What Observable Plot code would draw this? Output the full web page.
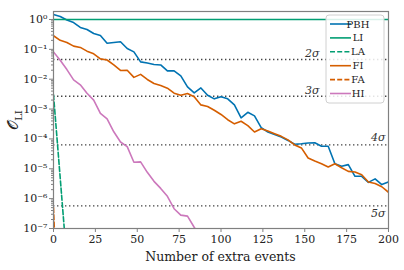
<!DOCTYPE html>
<html><head><meta charset="utf-8">
<script src="https://cdn.jsdelivr.net/npm/d3@7"></script>
<script src="https://cdn.jsdelivr.net/npm/@observablehq/plot@0.6"></script>
<style>
body{margin:0;background:#fff;}
#chart{width:404px;height:270px;}
</style></head><body><div id="chart"></div>
<script>
const events = [0,4,8,12,16,20,24,28,32,36,40,44,48,52,56,60,64,68,72,76,80,84,88,92,96,100,104,108,112,116,120,124,128,132,136,140,144,148,152,156,160,164,168,172,176,180,184,188,192,196,200];
const pbh = [1.47,1.26,0.96,0.79,0.54,0.46,0.34,0.29,0.16,0.17,0.18,0.107,0.082,0.038,0.035,0.031,0.030,0.019,0.019,0.013,0.0055,0.0035,0.0051,0.0029,0.0022,0.0026,0.0022,0.00138,0.00051,0.00078,0.00059,0.00024,0.00017,0.00014,0.000115,8.9e-5,6.6e-5,6.9e-5,7.3e-5,7.4e-5,5.7e-5,5.7e-5,1.47e-5,1.21e-5,1.38e-5,5.6e-6,5.6e-6,3.5e-6,4.6e-6,2.95e-6,3.6e-6];
const fi = [0.285,0.20,0.17,0.128,0.116,0.087,0.071,0.048,0.044,0.030,0.0196,0.020,0.0115,0.0145,0.0098,0.0072,0.0061,0.0050,0.0034,0.0029,0.0033,0.0026,0.00138,0.00122,0.00091,0.00066,0.00044,0.00032,0.00039,0.00028,0.00017,0.00022,0.000183,0.000150,0.000122,9.3e-5,6.3e-5,5.0e-5,2.3e-5,1.82e-5,1.48e-5,1.15e-5,1.47e-5,1.08e-5,8.2e-6,7.8e-6,6.3e-6,3.6e-6,3.2e-6,2.5e-6,1.63e-6];
const hiEvents = [0,4,8,12,16,20,24,28,32,36,40,44,48,52,56,60,64,68,72,76,80,84,88];
const hi = [0.082,0.043,0.021,0.0095,0.0065,0.0034,0.0020,0.00072,0.00047,0.000173,7.9e-5,5.5e-5,1.65e-5,1.7e-5,7.6e-6,3.8e-6,2.2e-6,1.2e-6,4.6e-7,2.8e-7,2.6e-7,1.1e-7,5e-8];
const liEvents = [0,200];
const li = [1,1];
const laEvents = [0,4,8];
const la = [0.003,5e-6,8e-9];
const faEvents = [0,4];
const fa = [5e-7,1e-12];
const sigmaP = [0.0455,0.0027,6.33e-5,5.73e-7];
const sigmaLabels = ["2σ","3σ","4σ","5σ"];
const xTicks = [0,25,50,75,100,125,150,175,200];
const yTicks = [1,1e-1,1e-2,1e-3,1e-4,1e-5,1e-6,1e-7];
const seriesNames = ["PBH","LI","LA","FI","FA","HI"];
const colors = {PBH:"#0173b2",LI:"#029e73",LA:"#029e73",FI:"#d55e00",FA:"#d55e00",HI:"#cc78bc"};
const dashes = {PBH:null,LI:null,LA:"5,2.2",FI:null,FA:"5,2.2",HI:null};

const rows = (xs, ys) => xs.map((x,i)=>({x, y: ys[i]}));
const sup = {"-":"⁻","0":"⁰","1":"¹","2":"²","3":"³","4":"⁴","5":"⁵","6":"⁶","7":"⁷","8":"⁸","9":"⁹"};
const fmt = d => "10" + String(Math.round(Math.log10(d))).split("").map(c=>sup[c]).join("");
const minorTicks = [];
yTicks.forEach(t => { if (t < 1) for (let k=2;k<10;k++) minorTicks.push(t*k); });

const lw = 1.6;
const plot = Plot.plot({
  width:404, height:270, marginLeft:53, marginRight:16, marginTop:11, marginBottom:42,
  style:{fontFamily:"DejaVu Serif", fontSize:"11px", background:"white", color:"#222", overflow:"visible"},
  x:{domain:[0,200]},
  y:{type:"log", domain:[1e-7,1.85]},
  marks:[
    Plot.ruleY(sigmaP, {stroke:"#444", strokeDasharray:"1.4,2.6", strokeWidth:1.4}),
    Plot.text(sigmaP.slice(0,2), {y:d=>d, text:(d,i)=>sigmaLabels[i], frameAnchor:"right", textAnchor:"end", dx:-69, dy:-6, fontStyle:"italic", fontSize:11, fill:"#333"}),
    Plot.text(sigmaP.slice(2,3), {y:d=>d, text:(d,i)=>sigmaLabels[2+i], frameAnchor:"right", textAnchor:"end", dx:-3, dy:-7, fontStyle:"italic", fontSize:11, fill:"#333"}),
    Plot.text(sigmaP.slice(3), {y:d=>d, text:(d,i)=>sigmaLabels[3+i], frameAnchor:"right", textAnchor:"end", dx:-3, dy:8, fontStyle:"italic", fontSize:11, fill:"#333"}),
    Plot.line(rows(events,pbh), {x:"x", y:"y", stroke:colors.PBH, strokeWidth:lw, clip:true}),
    Plot.line(rows(liEvents,li), {x:"x", y:"y", stroke:colors.LI, strokeWidth:lw, clip:true}),
    Plot.line(rows(laEvents,la), {x:"x", y:"y", stroke:colors.LA, strokeWidth:lw, strokeDasharray:dashes.LA, clip:true}),
    Plot.line(rows(events,fi), {x:"x", y:"y", stroke:colors.FI, strokeWidth:lw, clip:true}),
    Plot.line(rows(faEvents,fa), {x:"x", y:"y", stroke:colors.FA, strokeWidth:lw, strokeDasharray:dashes.FA, clip:true}),
    Plot.line(rows(hiEvents,hi), {x:"x", y:"y", stroke:colors.HI, strokeWidth:lw, clip:true}),
    Plot.frame({stroke:"#808080", strokeWidth:1.2}),
    Plot.axisX({ticks:xTicks, tickSize:4, tickPadding:3, fontSize:11, stroke:"#808080", label:null}),
    Plot.axisY({ticks:yTicks, tickFormat:fmt, tickSize:4, tickPadding:2, fontSize:11, stroke:"#808080", label:null}),
    Plot.axisY({ticks:minorTicks, tickFormat:()=>"", tickSize:2, stroke:"#808080", label:null})
  ]
});
document.getElementById("chart").appendChild(plot);

const svg = d3.select(plot);
// x label
svg.append("text").attr("x",220.5).attr("y",261).attr("text-anchor","middle")
  .attr("font-family","DejaVu Serif").attr("font-size",12.5).attr("fill","#222")
  .text("Number of extra events");
// y label
const yl = svg.append("text").attr("transform","translate(18,120) rotate(-90)")
  .attr("text-anchor","middle").attr("font-family","DejaVu Serif").attr("fill","#222");
yl.append("tspan").attr("font-size",15).text("𝒪");
yl.append("tspan").attr("font-size",10).attr("dy",4).text("LI");

// legend
const lg = svg.append("g").attr("transform","translate(326,15)");
lg.append("rect").attr("width",58).attr("height",88).attr("rx",3)
  .attr("fill","white").attr("fill-opacity",0.85).attr("stroke","#d0d0d0");
seriesNames.forEach((name,i)=>{
  const y = 9 + i*13.9;
  lg.append("line").attr("x1",4).attr("x2",25).attr("y1",y).attr("y2",y)
    .attr("stroke",colors[name]).attr("stroke-width",lw)
    .attr("stroke-dasharray",dashes[name]);
  lg.append("text").attr("x",32).attr("y",y+3.5).attr("font-family","DejaVu Serif")
    .attr("font-size",10).attr("fill","#222").text(name);
});
</script></body></html>
